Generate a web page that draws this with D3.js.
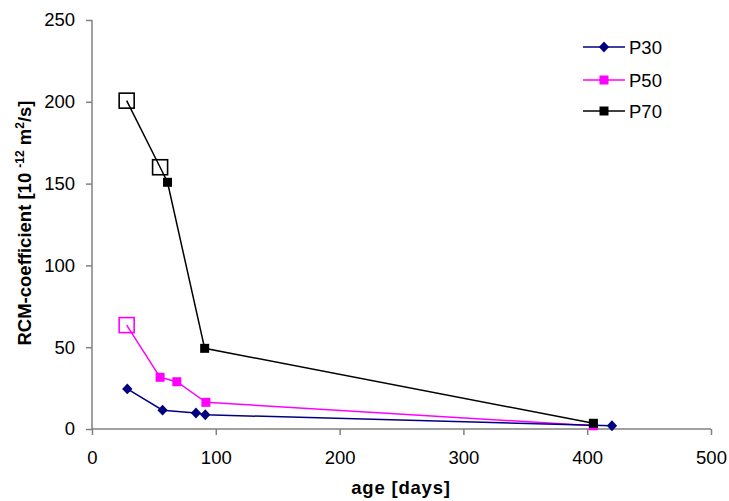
<!DOCTYPE html>
<html>
<head>
<meta charset="utf-8">
<script src="https://cdn.jsdelivr.net/npm/d3@7"></script>
<style>
  body { margin: 0; background: #fff; }
  text { font-family: "Liberation Sans", Arial, sans-serif; }
</style>
</head>
<body>
<div id="chart"></div>
<script>
// data (age in days, RCM in 1e-12 m2/s)
const seriesNames = ["P30", "P50", "P70"];
const p30Age = [28.5, 57, 84, 91.5, 420];
const p30Val = [24.5, 11.5, 9.8, 8.7, 2];
const p50Age = [28, 55, 68.5, 92, 405];
const p50Val = [63.5, 31.6, 28.9, 16.3, 2];
const p50Open = [true, false, false, false, false];
const p70Age = [28, 55, 61, 91, 405];
const p70Val = [200.7, 160, 150.8, 49.3, 3.5];
const p70Open = [true, true, false, false, false];
const xTicks = [0, 100, 200, 300, 400, 500];
const yTicks = [0, 50, 100, 150, 200, 250];
const colors = ["#000080", "#ff00ff", "#000000"];

const width = 729, height = 501;
const fs = 18.5;
const svg = d3.select("#chart").append("svg")
  .attr("width", width).attr("height", height);

const x = d3.scaleLinear().domain([0, 500]).range([92, 711]);
const y = d3.scaleLinear().domain([0, 250]).range([429, 20]);

// axes
const xAxis = svg.append("g").attr("transform", "translate(0,429)")
  .call(d3.axisBottom(x).tickValues(xTicks).tickSizeOuter(0).tickSize(6).tickPadding(16));
const yAxis = svg.append("g").attr("transform", "translate(92,0)")
  .call(d3.axisLeft(y).tickValues(yTicks).tickSizeOuter(0).tickSize(6).tickPadding(11));
[xAxis, yAxis].forEach(a => {
  a.selectAll("path, line").attr("stroke", "#808080").attr("stroke-width", 1.5);
  a.selectAll("text").attr("font-size", fs).attr("fill", "#000")
    .style("font-family", "Liberation Sans, Arial, sans-serif");
});
xAxis.select(".domain").attr("d", "M92,0H711");
yAxis.select(".domain").attr("d", "M0,20V429");

// axis titles
svg.append("text").attr("x", 401).attr("y", 494).attr("text-anchor", "middle")
  .attr("font-size", fs).attr("font-weight", "bold").attr("letter-spacing", 0.8)
  .text("age [days]");

const yt = svg.append("text").attr("transform", "translate(31,223) rotate(-90)")
  .attr("text-anchor", "middle").attr("font-size", fs).attr("font-weight", "bold");
yt.append("tspan").text("RCM-coefficient [10 ");
yt.append("tspan").attr("dy", -7).attr("font-size", 12).text("-12");
yt.append("tspan").attr("dy", 7).text(" m");
yt.append("tspan").attr("dy", -7).attr("font-size", 12).text("2");
yt.append("tspan").attr("dy", 7).text("/s]");

const line = d3.line().x(d => x(d.a)).y(d => y(d.v));

function build(ages, vals, open) {
  return ages.map((a, i) => ({ a: a, v: vals[i], open: open ? open[i] : false }));
}
const series = [
  { name: seriesNames[0], color: colors[0], shape: "diamond", pts: build(p30Age, p30Val) },
  { name: seriesNames[1], color: colors[1], shape: "square", pts: build(p50Age, p50Val, p50Open) },
  { name: seriesNames[2], color: colors[2], shape: "square", pts: build(p70Age, p70Val, p70Open) }
];

function drawMarker(g, shape, color, cx, cy, open) {
  if (open) {
    g.append("rect").attr("x", cx - 7.5).attr("y", cy - 7.5).attr("width", 15).attr("height", 15)
      .attr("fill", "none").attr("stroke", color).attr("stroke-width", 1.6);
  } else if (shape === "square") {
    g.append("rect").attr("x", cx - 4.5).attr("y", cy - 4.5).attr("width", 9).attr("height", 9)
      .attr("fill", color);
  } else {
    g.append("path").attr("d", d3.symbol(d3.symbolDiamond2, 75)())
      .attr("transform", `translate(${cx},${cy}) scale(0.95,1)`).attr("fill", color);
  }
}

// draw in order P50, P30, P70 last so black sits on top at day 405
[1, 0, 2].forEach(k => {
  const s = series[k];
  const g = svg.append("g");
  g.append("path").datum(s.pts).attr("d", line)
    .attr("fill", "none").attr("stroke", s.color).attr("stroke-width", 1.5);
  s.pts.forEach(p => drawMarker(g, s.shape, s.color, x(p.a), y(p.v), p.open));
});

// legend
const leg = svg.append("g");
const legY = [47, 80, 111];
series.forEach((s, i) => {
  leg.append("line").attr("x1", 583).attr("x2", 625).attr("y1", legY[i]).attr("y2", legY[i])
    .attr("stroke", s.color).attr("stroke-width", 1.5);
  drawMarker(leg, s.shape, s.color, 604, legY[i], false);
  leg.append("text").attr("x", 629).attr("y", legY[i] + 6.5).attr("font-size", fs).text(s.name);
});
</script>
</body>
</html>
